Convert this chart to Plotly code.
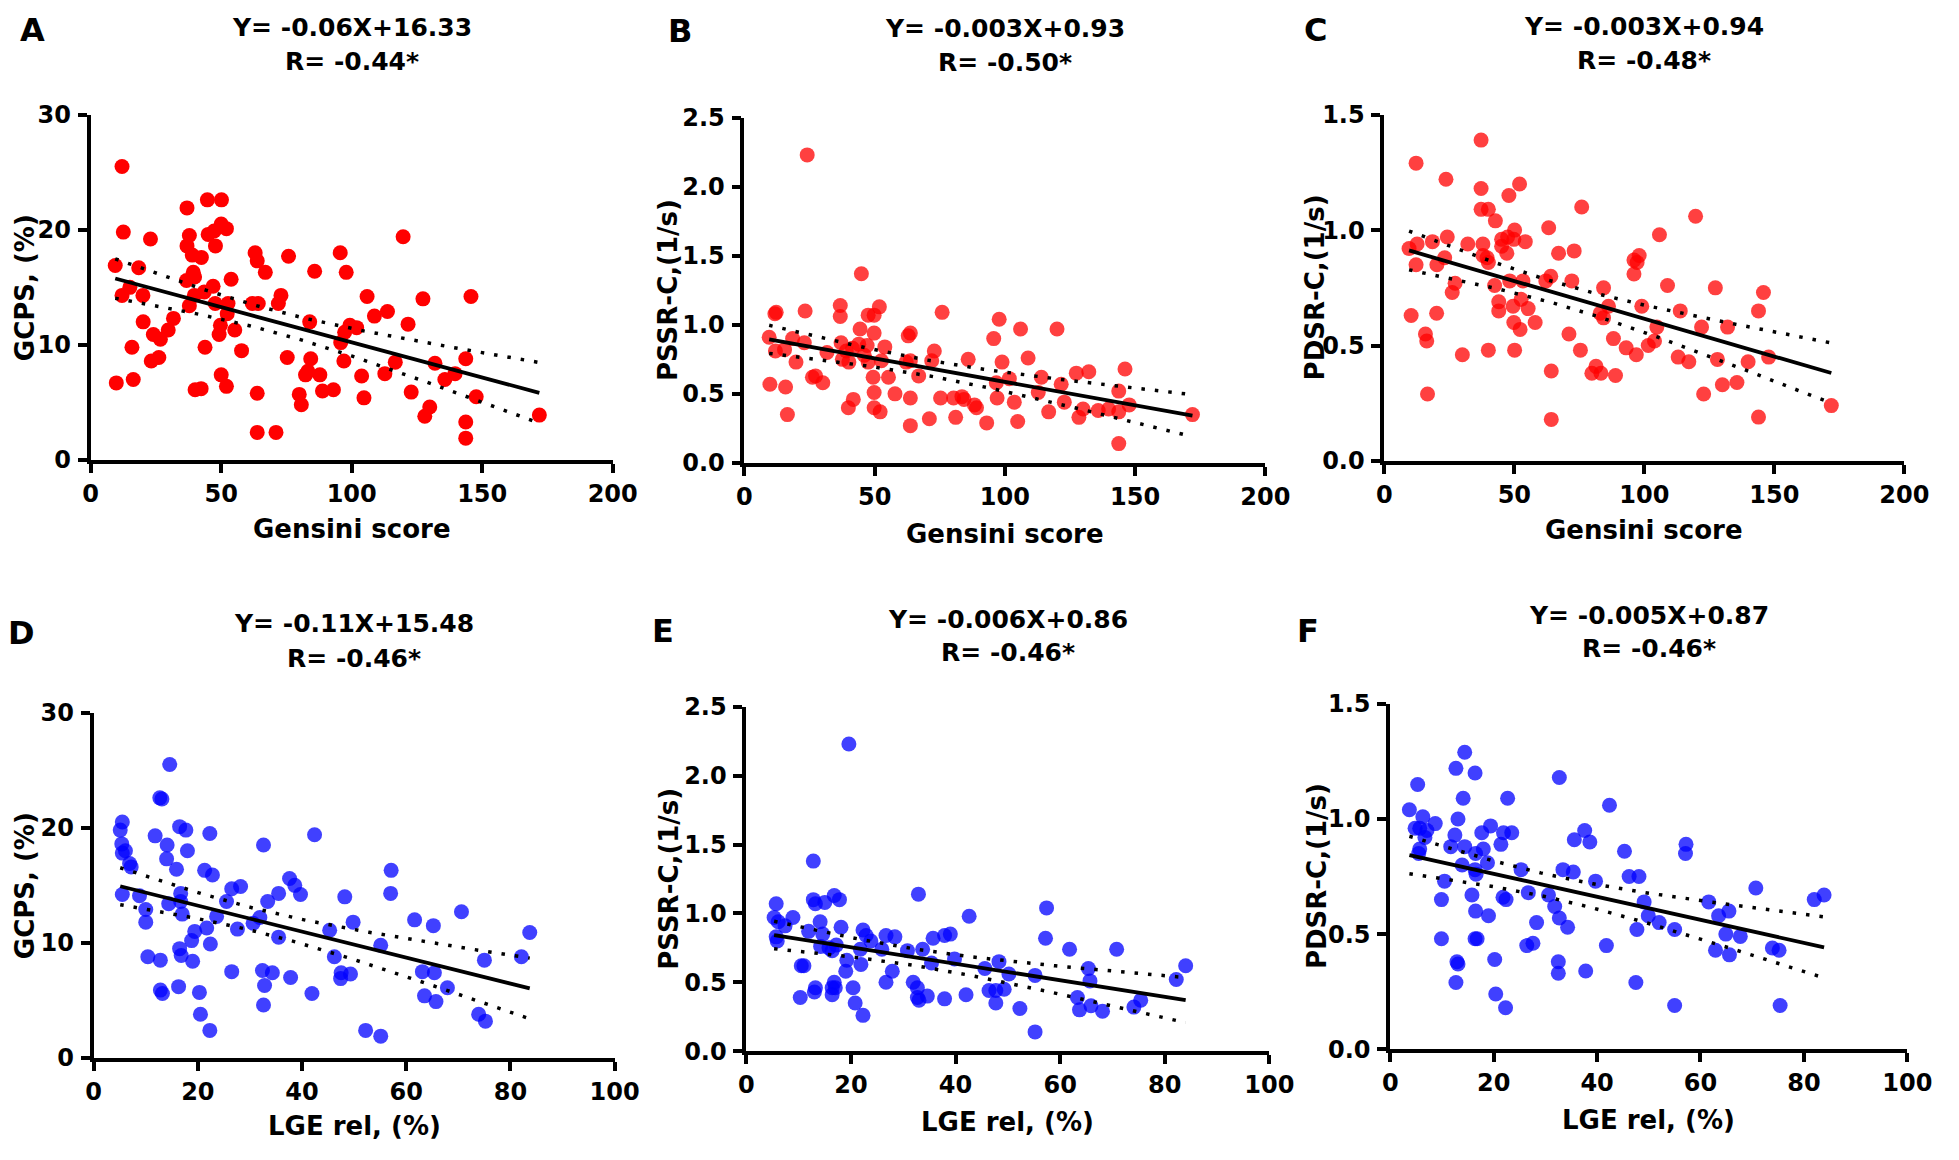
import numpy as np
import plotly.graph_objects as go

W, H = 1959, 1160          # browser window
OFF = 8                    # default <body> margin of the written page
FIG_W, FIG_H = W - 2 * OFF, H - 2 * OFF

# ---------------- data ----------------
A_x = [12, 12.5, 9.4, 12, 15, 9.8, 16.3, 15.8, 18.4, 20,
       20.1, 22.9, 24, 23.2, 26.1, 26.7, 29.7, 31.7, 36.9, 37.8,
       36.9, 38.9, 42.4, 39.3, 39.8, 36.7, 39.7, 37.8, 43.5, 46.9,
       44.7, 50.1, 45, 47.3, 47.8, 50, 52, 47.7, 52.6, 52.3,
       49.7, 49.2, 53.8, 55.2, 43.8, 40, 42.3, 50, 52, 57.8,
       63, 63.8, 66.9, 61.9, 64.2, 71.9, 72.9, 75.8, 75.3, 63.8,
       63.8, 71, 79.9, 80.7, 82.3, 83.2, 84.3, 83.9, 85.8, 87.8,
       88.8, 93, 95.6, 97.9, 95.8, 97.3, 99.3, 101.9, 97, 105.9,
       108.7, 103.8, 104.7, 112.7, 113.7, 116.7, 119.7, 121.6, 122.8, 127.3,
       128, 129.9, 131.9, 135.7, 139.6, 143.7, 143.7, 143.7, 145.7, 147.7, 171.9]
A_y = [25.5, 19.8, 16.9, 14.3, 15.0, 6.7, 7.0, 9.8, 16.7, 14.3,
       12.0, 19.2, 10.9, 8.6, 8.9, 10.5, 11.3, 12.3, 21.9, 19.5,
       18.6, 17.8, 17.6, 16.3, 15.9, 15.6, 14.3, 13.4, 14.6, 15.1,
       22.6, 22.6, 19.6, 19.9, 18.6, 20.5, 20.1, 13.6, 13.6, 12.7,
       11.7, 10.9, 15.7, 11.3, 9.8, 6.1, 6.2, 7.4, 6.4, 9.5,
       18.0, 17.3, 16.3, 13.6, 13.6, 13.6, 14.3, 17.7, 8.9, 5.8,
       2.4, 2.4, 5.7, 4.8, 7.4, 7.7, 8.8, 12.0, 16.4, 7.4,
       6.0, 6.1, 18.0, 16.3, 10.2, 11.1, 11.7, 11.5, 8.6, 14.2,
       12.5, 7.3, 5.4, 7.5, 12.9, 8.5, 19.4, 11.8, 5.9, 14.0,
       3.8, 4.6, 8.4, 7.0, 7.5, 8.8, 3.3, 1.9, 14.2, 5.5, 3.9]

B_x = [24.1, 44.9, 12.2, 11.7, 23.3, 36.8, 36.8, 51.8, 47.5, 49.8,
       44.4, 49.8, 75.9, 97.8, 106, 120, 95.7, 9.5, 18.5, 23,
       11.9, 15.4, 19.8, 31.7, 37.1, 39.1, 37.6, 40.1, 41.5, 43.9,
       46, 47.5, 47.1, 52.6, 53.9, 62.9, 63.7, 62.1, 63.7, 72.9,
       71.9, 66.9, 85.9, 98.9, 108.9, 9.8, 15.8, 16.5, 26.1, 27.3,
       30.1, 39.9, 41.8, 49.4, 49.8, 49.8, 52.1, 55.3, 57.8, 63.7,
       63.7, 71, 75.3, 80.3, 81.1, 83.5, 84.3, 88.3, 89.1, 93,
       96.7, 97, 101.7, 103.6, 104.9, 112.8, 114, 116.8, 121.6, 122.8,
       127.4, 132.2, 128.4, 130, 135.8, 139.8, 143.7, 143.7, 143.7, 146.1,
       147.7, 172]
B_y = [2.23, 1.37, 1.09, 1.08, 1.10, 1.14, 1.06, 1.13, 1.07, 1.07,
       0.97, 0.94, 1.09, 1.04, 0.97, 0.97, 0.90, 0.91, 0.90, 0.87,
       0.81, 0.82, 0.73, 0.80, 0.87, 0.81, 0.75, 0.73, 0.83, 0.86,
       0.78, 0.73, 0.85, 0.74, 0.84, 0.92, 0.94, 0.73, 0.74, 0.81,
       0.74, 0.63, 0.75, 0.73, 0.76, 0.57, 0.55, 0.35, 0.62, 0.63,
       0.58, 0.40, 0.46, 0.62, 0.51, 0.40, 0.37, 0.62, 0.50, 0.47,
       0.27, 0.32, 0.47, 0.47, 0.33, 0.48, 0.46, 0.42, 0.40, 0.29,
       0.58, 0.47, 0.61, 0.44, 0.30, 0.51, 0.62, 0.37, 0.57, 0.44,
       0.65, 0.66, 0.33, 0.39, 0.38, 0.39, 0.52, 0.37, 0.14, 0.68,
       0.42, 0.35]

C_x = [37.2, 12.2, 23.7, 37.2, 52, 47.9, 75.9, 37.2, 40, 42.7,
       63.2, 119.7, 105.8, 50.1, 9.5, 12.6, 18.5, 24.2, 32.1, 37.9,
       45.1, 47.4, 45.1, 54.2, 49.8, 37.9, 39.5, 40, 47.1, 67,
       73, 23.2, 12.2, 20.2, 27.2, 26.1, 42.4, 48.2, 53.3, 52.6,
       44, 44, 49.5, 55.3, 62.1, 64, 72.1, 96, 97.2, 98,
       96, 84.3, 108.9, 127.3, 145.8, 20.1, 10.3, 49.8, 52.2, 58,
       86.2, 83, 84.3, 99, 113.8, 143.9, 104.8, 122, 132, 15.8,
       16.3, 30, 40, 50.1, 71, 75.4, 88.1, 93, 96.9, 101.5,
       103.9, 113, 117.1, 128.1, 139.9, 147.8, 64.2, 79.8, 81.4, 83.3,
       88.9, 130, 135.6, 122.8, 16.6, 64.2, 143.9, 171.9]
C_y = [1.39, 1.29, 1.22, 1.18, 1.20, 1.15, 1.10, 1.09, 1.09, 1.04,
       1.01, 1.06, 0.98, 1.00, 0.92, 0.94, 0.95, 0.97, 0.94, 0.94,
       0.96, 0.97, 0.93, 0.95, 0.96, 0.89, 0.88, 0.86, 0.90, 0.90,
       0.91, 0.88, 0.85, 0.85, 0.77, 0.73, 0.76, 0.78, 0.78, 0.70,
       0.69, 0.65, 0.67, 0.66, 0.78, 0.80, 0.78, 0.87, 0.86, 0.89,
       0.81, 0.75, 0.76, 0.75, 0.73, 0.64, 0.63, 0.60, 0.57, 0.60,
       0.67, 0.64, 0.62, 0.67, 0.65, 0.65, 0.58, 0.58, 0.58, 0.55,
       0.52, 0.46, 0.48, 0.48, 0.55, 0.48, 0.53, 0.49, 0.46, 0.50,
       0.52, 0.45, 0.43, 0.44, 0.43, 0.45, 0.39, 0.38, 0.41, 0.38,
       0.37, 0.33, 0.34, 0.29, 0.29, 0.18, 0.19, 0.24]

D_x = [14.6, 12.7, 13.1, 5.5, 5.1, 5.4, 6.1, 5.5, 6.9, 7.2,
       5.5, 8.8, 11.8, 14.1, 14, 15.9, 16.5, 17.7, 18, 22.3,
       21.3, 22.8, 16.7, 16.7, 14.4, 10, 10, 17, 23.6, 21.7,
       19.4, 18.8, 22.4, 10.4, 12.8, 16.5, 16.8, 19, 12.8, 13.2,
       16.3, 20.3, 20.5, 22.3, 26.5, 28.2, 25.5, 27.6, 26.5, 30.6,
       31.9, 32.6, 33.4, 35.5, 35.5, 32.4, 32.8, 32.6, 34.3, 37.6,
       38.6, 39.7, 37.8, 42.4, 41.9, 45.3, 46.2, 48.2, 49.8, 47.5,
       47.4, 49.3, 55.1, 52.2, 55.1, 57.1, 57, 61.6, 65.2, 63.1,
       65.4, 63.5, 65.7, 67.9, 70.6, 73.9, 75.2, 75, 82.1, 83.7]
D_y = [25.5, 22.6, 22.5, 20.5, 19.8, 18.6, 18.0, 17.8, 16.9, 16.6,
       14.2, 14.1, 19.3, 18.5, 17.3, 16.4, 20.1, 19.8, 18.0, 19.5,
       16.3, 15.9, 14.3, 13.6, 13.4, 12.9, 11.8, 12.5, 12.3, 11.3,
       11.0, 10.2, 9.9, 8.8, 8.5, 9.5, 8.9, 8.4, 5.9, 5.6,
       6.2, 5.7, 3.8, 2.4, 14.7, 14.9, 13.6, 11.2, 7.5, 11.7,
       12.2, 18.5, 13.6, 14.3, 10.5, 7.6, 6.3, 4.6, 7.4, 15.6,
       15.0, 14.2, 7.0, 19.4, 5.6, 11.1, 8.8, 14.0, 11.8, 7.4,
       6.9, 7.3, 9.8, 2.4, 1.9, 16.3, 14.3, 12.0, 11.5, 7.5,
       7.4, 5.4, 4.9, 6.1, 12.7, 3.8, 3.2, 8.5, 8.8, 10.9]

E_x = [19.6, 12.8, 32.9, 5.7, 12.8, 13.2, 15, 16.8, 17.8, 5.3,
       6.1, 7.4, 8.9, 14.1, 18.1, 5.7, 5.9, 11.9, 14.6, 14.2,
       15.8, 16.4, 17.2, 22.3, 22.9, 23.8, 21.8, 25.9, 26.7, 28.4,
       30.8, 33.7, 35.7, 37.9, 39, 42.6, 39.8, 35.4, 19.2, 19,
       21.9, 10.5, 11, 27.9, 26.7, 31.9, 32.7, 16.8, 17, 16.4,
       16.4, 10.3, 13.2, 13, 20.4, 20.8, 22.3, 32.7, 33, 34.6,
       37.9, 42, 45.6, 48.3, 50.2, 46.4, 47.7, 49.3, 47.7, 52.3,
       55.2, 55.2, 57.4, 57.2, 61.8, 65.4, 65.7, 63.3, 63.7, 65.9,
       68.1, 70.8, 74.1, 75.4, 82.2, 84]
E_y = [2.23, 1.38, 1.14, 1.07, 1.10, 1.07, 1.08, 1.13, 1.10, 0.97,
       0.94, 0.91, 0.97, 0.94, 0.90, 0.83, 0.80, 0.87, 0.85, 0.76,
       0.75, 0.73, 0.77, 0.88, 0.84, 0.80, 0.74, 0.74, 0.84, 0.83,
       0.73, 0.74, 0.82, 0.84, 0.85, 0.98, 0.67, 0.64, 0.66, 0.58,
       0.63, 0.62, 0.62, 0.58, 0.50, 0.50, 0.46, 0.50, 0.46, 0.46,
       0.41, 0.39, 0.46, 0.43, 0.46, 0.35, 0.26, 0.39, 0.37, 0.40,
       0.38, 0.41, 0.60, 0.65, 0.56, 0.44, 0.44, 0.45, 0.35, 0.31,
       0.55, 0.14, 1.04, 0.82, 0.74, 0.60, 0.51, 0.39, 0.30, 0.33,
       0.29, 0.74, 0.32, 0.37, 0.52, 0.62]

F_x = [14.4, 12.7, 16.4, 32.7, 5.3, 14.1, 22.7, 42.4, 3.7, 6.3,
       13.1, 8.7, 4.8, 5.7, 7.1, 6.7, 17.7, 19.4, 21.9, 23.5,
       12.5, 35.6, 37.6, 38.6, 57.2, 57.1, 45.3, 11.7, 14.4, 16.5,
       18, 21.4, 5.7, 5.5, 13.9, 16.4, 16.6, 18.8, 25.3, 33.4,
       35.4, 39.7, 46.2, 48.1, 10.5, 9.9, 15.8, 21.8, 22.4, 26.7,
       30.6, 31.8, 32.7, 16.5, 19, 28.3, 34.3, 49.1, 49.9, 52,
       47.7, 55, 70.7, 61.6, 63.5, 65.5, 64.9, 67.7, 62.9, 65.6,
       73.9, 75.2, 82, 83.9, 9.9, 16.4, 16.8, 26.4, 27.6, 41.8,
       20.2, 12.9, 13.1, 32.5, 32.5, 37.8, 12.7, 47.5, 20.4, 22.3,
       55, 75.4]
F_y = [1.29, 1.22, 1.20, 1.18, 1.15, 1.09, 1.09, 1.06, 1.04, 1.01,
       1.00, 0.98, 0.96, 0.96, 0.95, 0.92, 0.94, 0.97, 0.94, 0.94,
       0.93, 0.91, 0.95, 0.90, 0.89, 0.85, 0.86, 0.88, 0.88, 0.85,
       0.87, 0.89, 0.87, 0.85, 0.80, 0.78, 0.76, 0.81, 0.78, 0.78,
       0.77, 0.73, 0.75, 0.75, 0.73, 0.65, 0.67, 0.66, 0.65, 0.68,
       0.67, 0.62, 0.57, 0.60, 0.58, 0.55, 0.53, 0.64, 0.58, 0.55,
       0.52, 0.52, 0.70, 0.64, 0.58, 0.60, 0.50, 0.49, 0.43, 0.41,
       0.44, 0.43, 0.65, 0.67, 0.48, 0.48, 0.48, 0.45, 0.46, 0.45,
       0.39, 0.38, 0.37, 0.38, 0.33, 0.34, 0.29, 0.29, 0.24, 0.18,
       0.19, 0.19]

# regression lines as drawn (slope, intercept)
FIT_A = (-0.0611, 16.34)
FIT_B = (-0.0034, 0.927)
FIT_C = (-0.00327, 0.943)
FIT_D = (-0.113, 15.50)
FIT_E = (-0.0060, 0.875)
FIT_F = (-0.0050, 0.862)

EQ_TEXT = ["Y= -0.06X+16.33", "Y= -0.003X+0.93", "Y= -0.003X+0.94",
           "Y= -0.11X+15.48", "Y= -0.006X+0.86", "Y= -0.005X+0.87"]
R_TEXT = ["R= -0.44*", "R= -0.50*", "R= -0.48*", "R= -0.46*", "R= -0.46*", "R= -0.46*"]
LETTERS = ["A", "B", "C", "D", "E", "F"]
X_LABELS = ["Gensini score"] * 3 + ["LGE rel, (%)"] * 3
Y_LABELS = ["GCPS, (%)", "PSSR-C,(1/s)", "PDSR-C,(1/s)",
            "GCPS, (%)", "PSSR-C,(1/s)", "PDSR-C,(1/s)"]
X_RANGES = [[0, 200]] * 3 + [[0, 100]] * 3
X_DTICK = [50] * 3 + [20] * 3
Y_RANGES = [[0, 30], [0, 2.5], [0, 1.5], [0, 30], [0, 2.5], [0, 1.5]]
Y_DTICK = [10, 0.5, 0.5, 10, 0.5, 0.5]
Y_FMT = ["d", ".1f", ".1f", "d", ".1f", ".1f"]

# ---------------- layout geometry (window pixels) ----------------
# plot boxes: x0, x1, ytop, ybottom
BOXES = [(84, 615, 103, 457), (749, 1279, 106, 460), (1400, 1929, 103, 458),
         (87, 617, 716, 1070), (751, 1283, 710, 1063), (1406, 1932, 707, 1061)]
TITLE1_Y = [14, 15, 13, 625, 620, 616]
TITLE2_Y = [48, 50, 47, 660, 654, 650]
LETTER_POS = [(24.5, 16), (683, 17), (1330, 16), (14, 634), (666, 632), (1322, 632)]
XTITLE_Y = [528, 533, 529, 1140, 1136, 1134]
YTITLE_X = [18, 672, 1329, 18, 672, 1331]

RED_SOLID = "rgb(255,0,0)"
RED_T = "rgba(255,0,0,0.75)"
BLUE_T = "rgba(0,0,255,0.75)"
MARKER_COLORS = [RED_SOLID, RED_T, RED_T, BLUE_T, BLUE_T, BLUE_T]

FONT = "DejaVu Sans, Arial, sans-serif"

data_x = [A_x, B_x, C_x, D_x, E_x, F_x]
data_y = [A_y, B_y, C_y, D_y, E_y, F_y]
fits = [FIT_A, FIT_B, FIT_C, FIT_D, FIT_E, FIT_F]


def px_x(v):
    return (v - OFF) / FIG_W


def px_y(v):
    return 1 - (v - OFF) / FIG_H


fig = go.Figure()
annotations = []
layout_axes = {}

for i in range(6):
    xs = np.array(data_x[i], dtype=float)
    ys = np.array(data_y[i], dtype=float)
    slope, intercept = fits[i]
    ax_id = "" if i == 0 else str(i + 1)
    xref, yref = "x" + ax_id, "y" + ax_id

    # points
    fig.add_trace(go.Scatter(x=xs, y=ys, mode="markers", xaxis=xref, yaxis=yref,
                             marker=dict(size=15, color=MARKER_COLORS[i], line=dict(width=0)),
                             hoverinfo="x+y", showlegend=False))

    # regression line + 95% confidence band
    n = len(xs)
    xl = np.linspace(xs.min(), xs.max(), 80)
    yl = slope * xl + intercept
    resid = ys - (slope * xs + intercept)
    s = np.sqrt(np.sum(resid ** 2) / (n - 2))
    xbar = xs.mean()
    sxx = np.sum((xs - xbar) ** 2)
    half = 1.98 * s * np.sqrt(1.0 / n + (xl - xbar) ** 2 / sxx)

    for band in (yl + half, yl - half):
        fig.add_trace(go.Scatter(x=xl, y=band, mode="lines", xaxis=xref, yaxis=yref,
                                 line=dict(color="black", width=3.5, dash="3.5px,10px"),
                                 hoverinfo="skip", showlegend=False))
    fig.add_trace(go.Scatter(x=xl, y=yl, mode="lines", xaxis=xref, yaxis=yref,
                             line=dict(color="black", width=3.8),
                             hoverinfo="skip", showlegend=False))

    x0, x1, yt, yb = BOXES[i]
    common = dict(showline=True, linecolor="black", linewidth=3.8,
                  ticks="outside", ticklen=9, tickwidth=3.8, tickcolor="black",
                  showgrid=False, zeroline=False, fixedrange=True,
                  tickfont=dict(family=FONT, size=24, color="black", weight="bold"))
    layout_axes["xaxis" + ax_id] = dict(domain=[px_x(x0), px_x(x1)], anchor=yref,
                                        range=X_RANGES[i], dtick=X_DTICK[i], tick0=0,
                                        ticklabelstandoff=0, **common)
    layout_axes["yaxis" + ax_id] = dict(domain=[px_y(yb), px_y(yt)], anchor=xref,
                                        range=Y_RANGES[i], dtick=Y_DTICK[i], tick0=0,
                                        tickformat=Y_FMT[i], ticklabelstandoff=2, **common)

    cx = (x0 + x1) / 2
    cy = (yt + yb) / 2
    bold = dict(family=FONT, color="black", weight="bold")
    for txt, ty in ((EQ_TEXT[i], TITLE1_Y[i]), (R_TEXT[i], TITLE2_Y[i])):
        annotations.append(dict(x=px_x(cx), y=px_y(ty), xref="paper", yref="paper",
                                text=txt, showarrow=False,
                                xanchor="center", yanchor="middle",
                                font=dict(size=25, **bold)))
    lx, ly = LETTER_POS[i]
    annotations.append(dict(x=px_x(lx), y=px_y(ly), xref="paper", yref="paper",
                            text=LETTERS[i], showarrow=False, xanchor="center",
                            yanchor="middle", font=dict(size=32, **bold)))
    annotations.append(dict(x=px_x(cx), y=px_y(XTITLE_Y[i]), xref="paper", yref="paper",
                            text=X_LABELS[i], showarrow=False, xanchor="center",
                            yanchor="middle", font=dict(size=26, **bold)))
    annotations.append(dict(x=px_x(YTITLE_X[i]), y=px_y(cy), xref="paper", yref="paper",
                            text=Y_LABELS[i], showarrow=False, xanchor="center",
                            yanchor="middle", textangle=-90, font=dict(size=26, **bold)))

fig.update_layout(width=FIG_W, height=FIG_H, autosize=False,
                  margin=dict(l=0, r=0, t=0, b=0),
                  paper_bgcolor="white", plot_bgcolor="white",
                  showlegend=False, annotations=annotations, **layout_axes)

fig.write_html("out.html")
